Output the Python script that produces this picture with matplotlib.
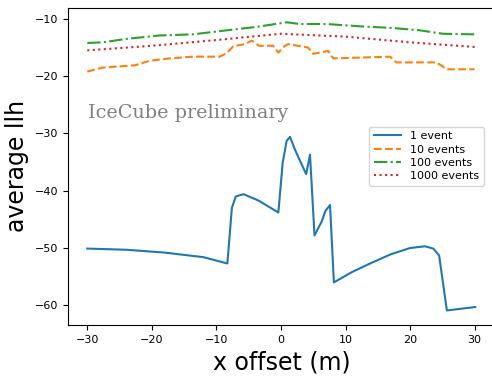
import numpy as np
from matplotlib import pyplot as plt

# 1 event
x_1 = [-30, -24, -18, -12, -8.3, -7.6, -7.0, -5.8, -3.5, -0.4, 0.26, 0.88, 1.4, 2.2, 3.9, 4.5,
       5.2, 6.3, 6.9, 7.6, 8.2, 11, 14, 17, 20, 22.3, 23.6, 24.5, 25.7, 30.1]
y_1 = [-50.1, -50.3, -50.8, -51.6, -52.7, -43.0, -41.0, -40.6, -41.7, -43.8, -35.2, -31.3, -30.6,
       -32.9, -37.1, -33.7, -47.8, -45.4, -43.5, -42.5, -56.0, -54.2, -52.6, -51.1, -50.0, -49.7,
       -50.1, -51.3, -60.9, -60.3]

# 10 events
x_10 = [-30, -27.6, -22.6, -20.3, -17.2, -13.6, -9.5, -8.4, -7.4, -5.6, -4.5, -3.4, -1.2, -0.4,
        0.26, 1.1, 4.2, 5.0, 7.3, 8.1, 16.9, 17.9, 24.1, 25.7, 30]
y_10 = [-19.2, -18.5, -18.1, -17.3, -16.9, -16.6, -16.6, -16.0, -14.8, -14.4, -13.8, -14.7, -14.7,
        -15.9, -15.0, -14.4, -15.0, -16.1, -15.6, -16.9, -16.6, -17.6, -17.6, -18.8, -18.8]

# 100 events
x_100 = [-30, -27.6, -24, -18.8, -13.6, -8.4, -3.8, 0.9, 2.9, 7.1, 12.2, 17.4, 21.5, 25.1, 30]
y_100 = [-14.2, -14.1, -13.5, -12.9, -12.7, -12.0, -11.4, -10.6, -10.9, -10.9, -11.3, -11.6,
         -12.0, -12.6, -12.7]

# 1000 events
x_1000 = [-30, -20, -10, 0, 10, 20, 30]
y_1000 = [-15.5, -14.7, -13.7, -12.6, -13.1, -14.1, -14.9]

fig = plt.figure(figsize=(4.92, 3.76), dpi=100)
ax = fig.add_axes([0.138, 0.136, 0.87, 0.843])

ax.plot(x_1, y_1, '-', label='1 event')
ax.plot(x_10, y_10, '--', label='10 events')
ax.plot(x_100, y_100, '-.', label='100 events')
ax.plot(x_1000, y_1000, ':', label='1000 events')
ax.set_xlim(-33, 33.3)
# right edge of the axes falls outside the picture
ax.spines['right'].set_visible(False)

ax.text(-29.9, -27.3, 'IceCube preliminary', family='DejaVu Serif', fontsize=13.8, color='gray')

ax.set_xlabel('x offset (m)', fontsize=17)
ax.set_ylabel('average llh', fontsize=17)
ax.tick_params(labelsize=8)
ax.legend(fontsize=8, loc='upper right', bbox_to_anchor=(0.972, 0.625), borderaxespad=0,
          handlelength=2.5, labelspacing=0.3)

fig.savefig('out.png', dpi=100)
